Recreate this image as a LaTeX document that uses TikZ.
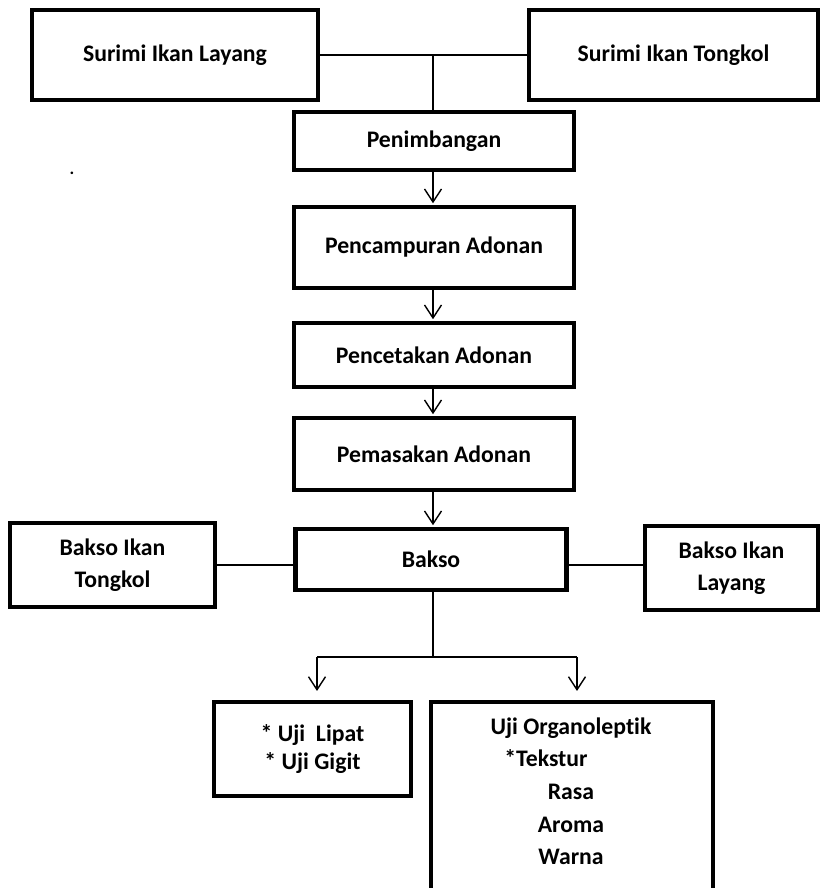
\documentclass[tikz,border=0pt]{standalone}
\usepackage{fontspec}
\setmainfont{Carlito}[Ligatures=NoCommon]
\usetikzlibrary{arrows.meta}

\begin{document}
\begin{tikzpicture}[
        % Kotak proses
        proses/.style={draw, line width=2.3pt, inner sep=0pt, align=center,
            font=\bfseries\fontsize{13.5}{18.5}\selectfont},
        % Teks di dalam kotak uji
        isi/.style={inner sep=0pt, align=center, font=\bfseries\fontsize{13.5}{18.6}\selectfont},
        % Garis penghubung
        garis/.style={line width=0.8pt},
        % Garis dengan panah terbuka
        panah/.style={line width=0.8pt, -{Straight Barb[length=0.26cm, width=0.34cm]}}
    ]
        \useasboundingbox (0,0) rectangle (16.46,-17.76);
        \clip (0,0) rectangle (16.46,-17.76);

        % --- Bahan baku ---
        \node[proses, minimum width=5.72cm, minimum height=1.8cm] (SL) at (3.50,-1.10) {Surimi Ikan Layang};
        \node[proses, minimum width=5.78cm, minimum height=1.8cm] (ST) at (13.47,-1.10) {Surimi Ikan Tongkol};

        % --- Tahap pengolahan ---
        \node[proses, minimum width=5.60cm, minimum height=1.16cm] (P1) at (8.68,-2.82) {Penimbangan};
        \node[proses, minimum width=5.60cm, minimum height=1.62cm] (P2) at (8.68,-4.95) {Pencampuran Adonan};
        \node[proses, minimum width=5.60cm, minimum height=1.28cm] (P3) at (8.68,-7.10) {Pencetakan Adonan};
        \node[proses, minimum width=5.60cm, minimum height=1.44cm] (P4) at (8.68,-9.08) {Pemasakan Adonan};
        \node[proses, minimum width=5.42cm, minimum height=1.22cm] (B) at (8.62,-11.19) {Bakso};

        % --- Hasil bakso ---
        \node[proses, minimum width=4.10cm, minimum height=1.68cm] (BT) at (2.25,-11.30) {Bakso Ikan\\Tongkol};
        \node[proses, minimum width=3.46cm, minimum height=1.68cm] (BL) at (14.63,-11.36) {Bakso Ikan\\Layang};

        % --- Pengujian ---
        \node[proses, minimum width=3.94cm, minimum height=1.88cm,
            font=\bfseries\fontsize{13.5}{16}\selectfont] (U1) at (6.25,-14.98) {* Uji\ \ Lipat\\* Uji Gigit};
        \node[proses, minimum width=5.64cm, minimum height=4.60cm] (U2) at (11.44,-16.34) {};
        \node[isi, anchor=north] (U2t) at (11.42,-14.34)
            {Uji Organoleptik\\\hspace*{-1.0cm}*Tekstur\\Rasa\\Aroma\\Warna};

        \node[font=\bfseries] (titik) at (1.44,-3.46) {.};

        % --- Penghubung ---
        \coordinate (j1) at (8.66,-1.10);
        \draw[garis] (SL.east) -- (ST.west);
        \draw[garis] (j1) -- (j1 |- P1.north);

        \draw[panah, shorten >=1pt] (P1.south -| j1) -- (j1 |- P2.north);
        \draw[panah, shorten >=1pt] (P2.south -| j1) -- (j1 |- P3.north);
        \draw[panah, shorten >=1pt] (P3.south -| j1) -- (j1 |- P4.north);
        \draw[panah, shorten >=1pt] (P4.south -| j1) -- (j1 |- B.north);

        \draw[garis] (BT.east) -- (BT.east -| B.west);
        \draw[garis] (BT.east -| B.east) -- (BT.east -| BL.west);

        \coordinate (s) at (8.66,-13.14);
        \coordinate (a1) at (6.34,-13.14);
        \coordinate (a2) at (11.54,-13.14);
        \draw[garis] (B.south -| s) -- (s);
        \draw[garis] (a1) -- (a2);
        \draw[panah, shorten >=0.18cm] (a1) -- (a1 |- U1.north);
        \draw[panah, shorten >=0.18cm] (a2) -- (a2 |- U2.north);

    \end{tikzpicture}
\end{document}
